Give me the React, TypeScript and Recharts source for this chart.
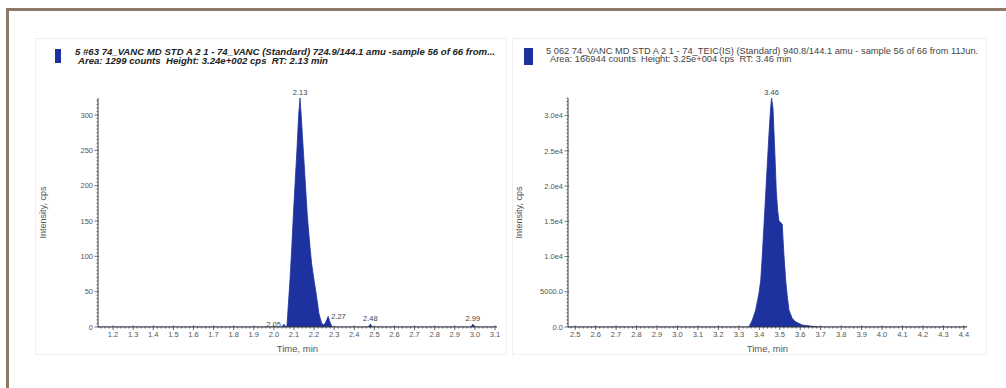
import React from 'react';
import { ComposedChart, Area, XAxis, YAxis, ReferenceDot } from 'recharts';

// ---- Left chromatogram (74_VANC) ----
const leftTimes = [1.125, 2.04, 2.05, 2.06, 2.065, 2.069, 2.08, 2.089, 2.097, 2.106, 2.115, 2.123, 2.13, 2.136, 2.146, 2.156, 2.166, 2.18, 2.188, 2.2, 2.213, 2.224, 2.238, 2.25, 2.26, 2.27, 2.28, 2.29, 2.47, 2.48, 2.49, 2.98, 2.99, 3.0, 3.11];
const leftIntensity = [0, 0, 4, 0, 1, 19, 66, 112, 159, 206, 252, 299, 324, 299, 252, 206, 159, 112, 89, 66, 42, 19, 5, 3, 8, 15, 6, 0, 0, 4, 0, 0, 4, 0, 0];
const leftXTicks = [1.2, 1.3, 1.4, 1.5, 1.6, 1.7, 1.8, 1.9, 2.0, 2.1, 2.2, 2.3, 2.4, 2.5, 2.6, 2.7, 2.8, 2.9, 3.0, 3.1];
const leftYTicks = [0, 50, 100, 150, 200, 250, 300];
const leftYTickLabels = ['0', '50', '100', '150', '200', '250', '300'];
const leftPeakTimes = [2.05, 2.13, 2.27, 2.48, 2.99];
const leftPeakHeights = [4, 324, 15, 4, 4];
const leftPeakLabels = ['2.05', '2.13', '2.27', '2.48', '2.99'];
const leftTitle1 = '5 #63 74_VANC MD STD A 2 1 - 74_VANC (Standard) 724.9/144.1 amu -sample 56 of 66 from...';
const leftTitle2 = 'Area: 1299 counts  Height: 3.24e+002 cps  RT: 2.13 min';

// ---- Right chromatogram (74_TEIC(IS)) ----
const rightTimes = [2.465, 3.34, 3.35, 3.366, 3.382, 3.398, 3.407, 3.415, 3.423, 3.431, 3.439, 3.447, 3.455, 3.46, 3.467, 3.475, 3.483, 3.49, 3.496, 3.512, 3.52, 3.529, 3.537, 3.545, 3.561, 3.577, 3.61, 3.658, 3.707, 4.415];
const rightIntensity = [0, 0, 47, 986, 2394, 4740, 6618, 10370, 14600, 18830, 23050, 27270, 31020, 32500, 31020, 25390, 19290, 16470, 15070, 14600, 10370, 6618, 4270, 2394, 1220, 750, 280, 100, 0, 0];
const rightXTicks = [2.5, 2.6, 2.7, 2.8, 2.9, 3.0, 3.1, 3.2, 3.3, 3.4, 3.5, 3.6, 3.7, 3.8, 3.9, 4.0, 4.1, 4.2, 4.3, 4.4];
const rightYTicks = [0, 5000, 10000, 15000, 20000, 25000, 30000];
const rightYTickLabels = ['0.0', '5000.0', '1.0e4', '1.5e4', '2.0e4', '2.5e4', '3.0e4'];
const rightPeakTimes = [3.46];
const rightPeakHeights = [32500];
const rightPeakLabels = ['3.46'];
const rightTitle1 = '5 062 74_VANC MD STD A 2 1 - 74_TEIC(IS) (Standard) 940.8/144.1 amu - sample 56 of 66 from 11Jun.';
const rightTitle2 = 'Area: 166944 counts  Height: 3.25e+004 cps  RT: 3.46 min';

const xLabel = 'Time, min';
const yLabel = 'Intensity, cps';

const FONT = '"Liberation Sans", Arial, sans-serif';
const FILL = '#1d329e';
const AXIS = '#3a3a3a';
const TICK_FILL = '#555';
const TICK_FS = 7.5;
const TS = 3;
const TM = 2;

function minorTicks(lo: number, hi: number, step: number, scale: number): number[] {
  const out: number[] = [];
  const a = Math.ceil(lo / step - 1e-9);
  const b = Math.floor(hi / step + 1e-9);
  for (let k = a; k <= b; k++) out.push(Math.round(k * step * scale) / scale);
  return out;
}

const isMajor = (v: number, majors: number[]) => majors.some((m) => Math.abs(m - v) < 1e-6);

const makeXTick = (majors: number[]) => (p: any) => {
  const { x, y, payload } = p;
  const v = payload.value as number;
  const axisY = y - TS - TM;
  const major = isMajor(v, majors);
  return (
    <g>
      <line x1={x} x2={x} y1={axisY - (major ? 1.5 : 0)} y2={axisY + (major ? 3 : 1.5)} stroke={AXIS} strokeWidth={0.8} />
      {major && (
        <text x={x} y={y} dy="0.71em" textAnchor="middle" style={{ fontSize: TICK_FS, fill: TICK_FILL, fontFamily: FONT }}>
          {v.toFixed(1)}
        </text>
      )}
    </g>
  );
};

const makeYTick = (majors: number[], labels: string[]) => (p: any) => {
  const { x, y, payload } = p;
  const v = payload.value as number;
  const axisX = x + TS + TM;
  const idx = majors.findIndex((m) => Math.abs(m - v) < 1e-6);
  const major = idx >= 0;
  return (
    <g>
      <line x1={axisX - (major ? 3.5 : 1.5)} x2={axisX + (major ? 1 : 0)} y1={y} y2={y} stroke={AXIS} strokeWidth={0.7} />
      {major && (
        <text x={x} y={y} dy="0.355em" textAnchor="end" style={{ fontSize: TICK_FS, fill: TICK_FILL, fontFamily: FONT }}>
          {labels[idx]}
        </text>
      )}
    </g>
  );
};

const yLabelContent = (offsetX: number) => (p: any) => {
  const vb = p && p.viewBox ? p.viewBox : { x: 0, y: 98, width: 68, height: 229 };
  const cx = vb.x + offsetX;
  const cy = vb.y + vb.height / 2;
  return (
    <text x={cx} y={cy} transform={`rotate(-90 ${cx} ${cy})`} textAnchor="middle" dominantBaseline="central"
      style={{ fontSize: 9, fill: '#555', fontFamily: FONT }}>{yLabel}</text>
  );
};

type ChartProps = {
  times: number[]; values: number[]; xTicks: number[]; yTicks: number[]; yTickLabels: string[];
  xDomain: [number, number]; yMax: number; xMinorStep: number; yMinorStep: number;
  peakTimes: number[]; peakHeights: number[]; peakLabels: string[];
  left: number; yLabelOffset: number; labelPositions: string[];
};

function Chromatogram(props: ChartProps) {
  const data = props.times.map((t, i) => ({ t, v: props.values[i] }));
  const xAll = minorTicks(props.xDomain[0], props.xDomain[1], props.xMinorStep, 1000);
  const yAll = minorTicks(0, props.yMax, props.yMinorStep, 1);
  return (
    <div style={{ position: 'absolute', left: props.left, top: 80 }}>
      <ComposedChart width={480} height={280} data={data} margin={{ top: 18, right: 13, bottom: 3, left: 0 }}>
        <XAxis dataKey="t" type="number" domain={props.xDomain} ticks={xAll} allowDataOverflow
          interval={0} tick={makeXTick(props.xTicks)} tickLine={false} tickSize={TS} tickMargin={TM}
          stroke={AXIS} height={30}
          label={{ value: xLabel, position: 'insideBottom', offset: 5, style: { fontSize: 9.5, fill: '#555', fontFamily: FONT } }} />
        <YAxis type="number" domain={[0, props.yMax]} ticks={yAll} allowDataOverflow interval={0}
          tick={makeYTick(props.yTicks, props.yTickLabels)} tickLine={false} tickSize={TS} tickMargin={TM}
          stroke={AXIS} width={68}
          label={{ value: yLabel, content: yLabelContent(props.yLabelOffset) }} />
        <Area type="linear" dataKey="v" stroke={FILL} strokeWidth={0.8} fill={FILL} fillOpacity={1}
          isAnimationActive={false} dot={false} activeDot={false} />
        {props.peakTimes.map((t, i) => (
          <ReferenceDot key={i} x={t} y={props.peakHeights[i]} r={0} stroke="none" fill="none" ifOverflow="visible"
            label={{ value: props.peakLabels[i], position: props.labelPositions[i] as any, offset: 3,
              style: { fontSize: 7.5, fill: '#444', fontFamily: FONT } }} />
        ))}
      </ComposedChart>
    </div>
  );
}

const titleBase: React.CSSProperties = { position: 'absolute', whiteSpace: 'pre', fontFamily: FONT, lineHeight: '10px' };

export default function App() {
  return (
    <div style={{ position: 'absolute', left: 0, top: 0, width: 1006, height: 388, overflow: 'hidden', background: '#fff' }}>
      <div style={{ position: 'absolute', left: 6, top: 8, width: 1100, height: 500, border: '3px solid #8c7a66' }} />
      <div style={{ position: 'absolute', left: 35, top: 38, width: 470, height: 315, border: '1px solid #efefef' }} />
      <div style={{ position: 'absolute', left: 512, top: 38, width: 473, height: 315, border: '1px solid #efefef' }} />

      <div style={{ position: 'absolute', left: 55, top: 49, width: 6, height: 14, background: FILL }} />
      <div style={{ ...titleBase, left: 75, top: 47, fontSize: 9.6, fontWeight: 'bold', fontStyle: 'italic', color: '#222' }}>{leftTitle1}</div>
      <div style={{ ...titleBase, left: 78, top: 56, fontSize: 9.6, fontWeight: 'bold', fontStyle: 'italic', color: '#222' }}>{leftTitle2}</div>

      <div style={{ position: 'absolute', left: 524, top: 48, width: 9, height: 17, background: FILL }} />
      <div style={{ ...titleBase, left: 546, top: 46, fontSize: 9.3, color: '#444' }}>{rightTitle1}</div>
      <div style={{ ...titleBase, left: 550, top: 54, fontSize: 9.3, color: '#444' }}>{rightTitle2}</div>

      <Chromatogram times={leftTimes} values={leftIntensity} xTicks={leftXTicks} yTicks={leftYTicks}
        yTickLabels={leftYTickLabels} xDomain={[1.125, 3.11]} yMax={324} xMinorStep={0.02} yMinorStep={5}
        peakTimes={leftPeakTimes} peakHeights={leftPeakHeights} peakLabels={leftPeakLabels} left={30} yLabelOffset={13}
        labelPositions={['left', 'top', 'right', 'top', 'top']} />
      <Chromatogram times={rightTimes} values={rightIntensity} xTicks={rightXTicks} yTicks={rightYTicks}
        yTickLabels={rightYTickLabels} xDomain={[2.465, 4.415]} yMax={32500} xMinorStep={0.02} yMinorStep={500}
        peakTimes={rightPeakTimes} peakHeights={rightPeakHeights} peakLabels={rightPeakLabels} left={500} yLabelOffset={19}
        labelPositions={['top']} />
    </div>
  );
}
